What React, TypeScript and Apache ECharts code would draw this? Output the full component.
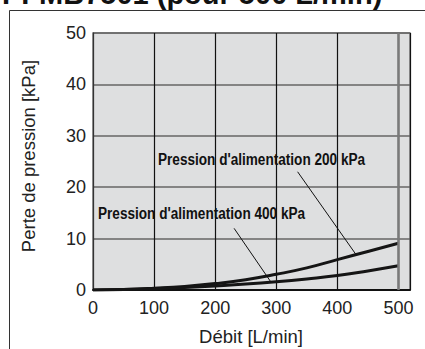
import React, { useEffect, useRef } from "react";
import * as echarts from "echarts";

const flowTicks = [0, 100, 200, 300, 400, 500];
const p200Flow = [0, 50, 100, 150, 200, 250, 300, 350, 400, 450, 500];
const p200Drop = [0, 0.1, 0.35, 0.7, 1.25, 2.0, 3.05, 4.3, 5.9, 7.5, 9.1];
const p400Flow = [0, 50, 100, 150, 200, 250, 300, 350, 400, 450, 500];
const p400Drop = [0, 0.08, 0.25, 0.5, 0.8, 1.15, 1.6, 2.15, 2.8, 3.7, 4.7];
const seriesNames = ["Pression d'alimentation 200 kPa", "Pression d'alimentation 400 kPa"];
const leader200 = [[335, 23], [430, 7.0]];
const leader400 = [[231, 12], [291, 1.6]];

const FONT = "Liberation Sans, Arial, sans-serif";

export default function App() {
  const ref = useRef<HTMLDivElement>(null);
  useEffect(() => {
    if (!ref.current) return;
    const chart = echarts.init(ref.current, undefined, { renderer: "svg" });
    const leaderStyle = { color: "#111", width: 1, type: "solid" as const };
    chart.setOption({
      animation: false,
      backgroundColor: "#ffffff",
      grid: {
        left: 93,
        right: 15,
        top: 33,
        bottom: 59,
        show: true,
        backgroundColor: "#dedfe0",
        borderColor: "#777",
        borderWidth: 1.5,
      },
      xAxis: {
        type: "value",
        min: 0,
        max: 519,
        interval: 100,
        axisLine: { show: true, lineStyle: { color: "#111", width: 2 } },
        axisTick: { show: false },
        axisLabel: {
          color: "#222",
          fontSize: 18,
          fontFamily: FONT,
          margin: 9,
          formatter: (v: number) => (flowTicks.includes(v) ? String(v) : ""),
        },
        splitLine: { show: true, lineStyle: { color: "#111", width: 1.2 } },
      },
      yAxis: {
        type: "value",
        min: 0,
        max: 50,
        interval: 10,
        axisLine: { show: true, lineStyle: { color: "#333", width: 1 } },
        axisTick: { show: false },
        axisLabel: { color: "#222", fontSize: 18, fontFamily: FONT, margin: 7 },
        splitLine: { show: true, lineStyle: { color: "#666", width: 1.5 } },
      },
      series: [
        {
          name: seriesNames[0],
          type: "line",
          smooth: true,
          symbol: "none",
          data: p200Flow.map((x, i) => [x, p200Drop[i]]),
          lineStyle: { color: "#151515", width: 3 },
          markLine: {
            silent: true,
            symbol: ["none", "none"],
            label: { show: false },
            data: [
              [
                { coord: leader200[0], lineStyle: leaderStyle },
                { coord: leader200[1] },
              ],
              [
                { coord: leader400[0], lineStyle: leaderStyle },
                { coord: leader400[1] },
              ],
              { xAxis: 500, lineStyle: { color: "#7a7a7a", width: 2.5, type: "solid" } },
            ],
          },
          z: 3,
        },
        {
          name: seriesNames[1],
          type: "line",
          smooth: true,
          symbol: "none",
          data: p400Flow.map((x, i) => [x, p400Drop[i]]),
          lineStyle: { color: "#151515", width: 3 },
          z: 3,
        },
      ],
      graphic: [
        {
          type: "polyline",
          shape: { points: [[9.5, 349], [9.5, 10.5], [425, 10.5]] },
          style: { stroke: "#333", lineWidth: 1, fill: "none" },
          silent: true,
        },
        {
          type: "text",
          x: 2,
          y: -6,
          style: {
            text: "PFMB7501 (pour 500 L/min)",
            font: `bold 29px ${FONT}`,
            fill: "#111",
            textAlign: "left",
            textVerticalAlign: "middle",
          },
          silent: true,
        },
        {
          type: "text",
          x: 28.5,
          y: 156,
          rotation: Math.PI / 2,
          style: {
            text: "Perte de pression [kPa]",
            font: `18.5px ${FONT}`,
            fill: "#222",
            textAlign: "center",
            textVerticalAlign: "middle",
          },
          silent: true,
        },
        {
          type: "text",
          x: 251,
          y: 336,
          style: {
            text: "Débit [L/min]",
            font: `18.5px ${FONT}`,
            fill: "#222",
            textAlign: "center",
            textVerticalAlign: "middle",
          },
          silent: true,
        },
        {
          type: "text",
          x: 158,
          y: 159,
          scaleX: 0.8,
          style: {
            text: seriesNames[0],
            font: `bold 17px ${FONT}`,
            fill: "#111",
            textAlign: "left",
            textVerticalAlign: "middle",
          },
          silent: true,
          z: 10,
        },
        {
          type: "text",
          x: 98,
          y: 213,
          scaleX: 0.8,
          style: {
            text: seriesNames[1],
            font: `bold 17px ${FONT}`,
            fill: "#111",
            textAlign: "left",
            textVerticalAlign: "middle",
          },
          silent: true,
          z: 10,
        },
      ],
    });
    return () => chart.dispose();
  }, []);
  return <div ref={ref} style={{ width: 425, height: 349, position: "absolute", left: 0, top: 0 }} />;
}
